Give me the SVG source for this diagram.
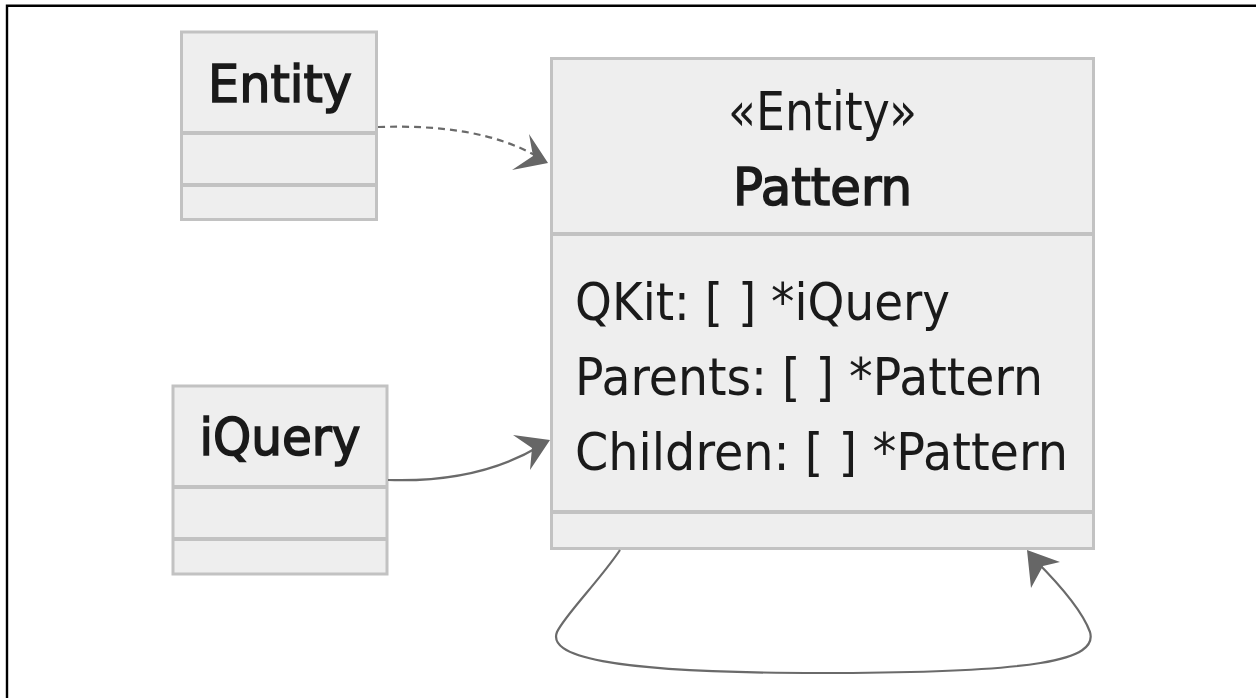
<svg xmlns="http://www.w3.org/2000/svg" width="1256" height="698" viewBox="0 0 1256 698">
<defs>
<style>
.box{fill:#eeeeee;stroke:#c2c2c2;stroke-width:3}
.div{stroke:#c2c2c2;stroke-width:4}
.t{font-family:"DejaVu Sans",sans-serif;fill:#1a1a1a}
.title{font-weight:normal;font-size:52px;text-anchor:middle;stroke:#1a1a1a;stroke-width:1.6}
.mem{font-size:52px}
.edge{fill:none;stroke:#6a6a6a;stroke-width:2.2}
.head{fill:#666666}
</style>
</defs>
<rect x="0" y="0" width="1256" height="698" fill="#ffffff"/>
<path d="M7,698 V5.8 H1256" fill="none" stroke="#000" stroke-width="2.4"/>
<g id="node-Entity">
<rect class="box" x="181.5" y="32" width="195" height="187.5"/>
<line class="div" x1="181.5" y1="133" x2="376.5" y2="133"/>
<line class="div" x1="181.5" y1="185" x2="376.5" y2="185"/>
<text class="t title" x="280" y="102" textLength="144" lengthAdjust="spacingAndGlyphs">Entity</text>
</g>
<g id="node-iQuery">
<rect class="box" x="173" y="386" width="214" height="188"/>
<line class="div" x1="173" y1="487" x2="387" y2="487"/>
<line class="div" x1="173" y1="539" x2="387" y2="539"/>
<text class="t title" x="280" y="455" textLength="161" lengthAdjust="spacingAndGlyphs">iQuery</text>
</g>
<g id="node-Pattern">
<rect class="box" x="551.5" y="58.5" width="542" height="490"/>
<line class="div" x1="551.5" y1="234" x2="1093.5" y2="234"/>
<line class="div" x1="551.5" y1="512" x2="1093.5" y2="512"/>
<text class="t" x="822.5" y="130" font-size="53" text-anchor="middle" textLength="189" lengthAdjust="spacingAndGlyphs">«Entity»</text>
<text class="t title" x="822.5" y="205" textLength="179" lengthAdjust="spacingAndGlyphs">Pattern</text>
<text class="t mem" x="575" y="320" textLength="375" lengthAdjust="spacingAndGlyphs">QKit: [ ] *iQuery</text>
<text class="t mem" x="575" y="395" textLength="468" lengthAdjust="spacingAndGlyphs">Parents: [ ] *Pattern</text>
<text class="t mem" x="575" y="470" textLength="493" lengthAdjust="spacingAndGlyphs">Children: [ ] *Pattern</text>
</g>
<g id="connectors">
<path class="edge" d="M378,127 C440,125 495,132 538,157" stroke-dasharray="7 5"/>
<path class="head" d="M548,163 L529,134 L533,156 L512,170 Z"/>
<path class="edge" d="M388,480 C450,482 500,470 540,446"/>
<path class="head" d="M550,440 L513,435 L532,448 L530,470 Z"/>
<path class="edge" d="M620,550 C600,580 565,615 557,632 C548,655 600,673 820,673 C1040,673 1098,660 1090,632 C1082,610 1055,580 1035,560"/>
<path class="head" d="M1027,550 L1060,562 L1043,566 L1031,588 Z"/>
</g>
</svg>
